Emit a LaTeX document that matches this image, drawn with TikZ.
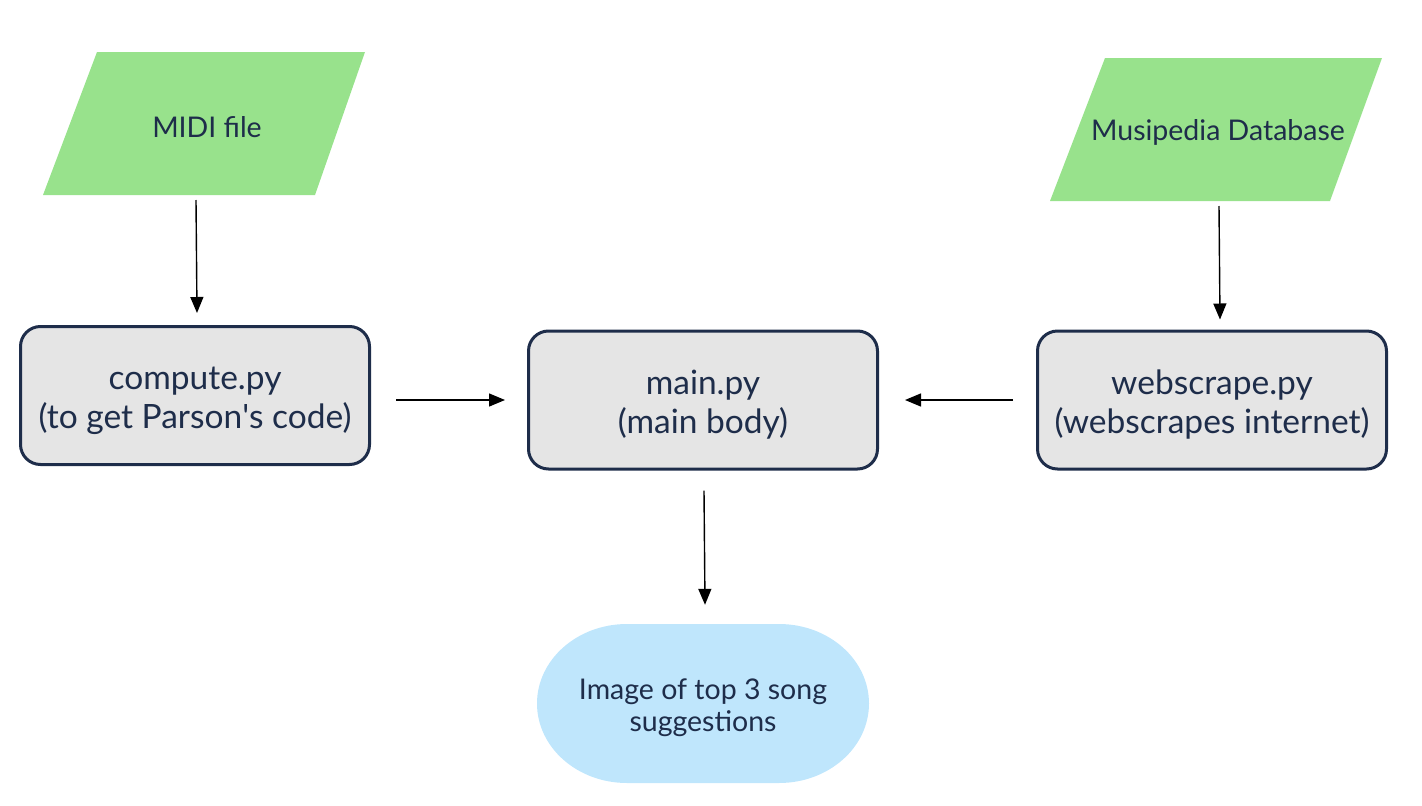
\documentclass[tikz,border=0pt]{standalone}
\usepackage{fontspec}
\setmainfont{Lato}
\usetikzlibrary{arrows.meta}
\definecolor{navy}{HTML}{1E2D4A}
\definecolor{ingreen}{HTML}{98E28C}
\definecolor{boxgray}{HTML}{E5E5E5}
\definecolor{termblue}{HTML}{BFE6FC}
\begin{document}
\begin{tikzpicture}[x=1pt,y=-1pt,
  proc/.style={draw=navy, line width=3pt, fill=boxgray, rounded corners=20pt,
    minimum width=349pt, minimum height=138pt, inner sep=0pt},
  proctext/.style={align=center, text=navy,
    font=\fontsize{33.5}{39}\selectfont, inner sep=0pt},
  io/.style={text=navy, font=\fontsize{28.5}{32}\selectfont, inner sep=0pt},
  term/.style={minimum width=332pt, minimum height=159pt, align=center, text=navy,
    font=\fontsize{28.5}{32}\selectfont, inner sep=0pt},
  conn/.style={line width=1.4pt, -{Triangle[length=16pt,width=13pt]}}]
\useasboundingbox (0,0) rectangle (1422,806);
% input parallelograms
\path[fill=ingreen] (97,52) -- (365,52) -- (315,195) -- (43,195) -- cycle;
\node[io] (midi) at (207,127) {MIDI file};
\coordinate (midiout) at (196,200);
\path[fill=ingreen] (1105,58) -- (1382,58) -- (1330,201) -- (1050,201) -- cycle;
\node[io] (musi) at (1218,132) {Musipedia Database};
\coordinate (musiout) at (1219,206);
% process boxes
\node[proc] (compute) at (195,395.5) {};
\node[proctext] (computetxt) at (195,401) {compute.py\\(to get Parson\textquotesingle s code)};
\node[proc] (main) at (703,400) {};
\node[proctext] (maintxt) at (703,405) {main.py\\(main body)};
\node[proc] (web) at (1212,400) {};
\node[proctext] (webtxt) at (1212,405) {webscrape.py\\(webscrapes internet)};
% terminator
\fill[termblue] (627,624) -- (779,624)
  arc[start angle=-90, end angle=90, x radius=90, y radius=79.5]
  -- (627,783)
  arc[start angle=90, end angle=270, x radius=90, y radius=79.5] -- cycle;
\node[term] (out) at (703,703.5) {};
\node[term, minimum height=0pt] (outtxt) at (703,708) {Image of top 3 song\\suggestions};
% connectors
\draw[conn] (midiout) -- ([xshift=2pt,yshift=12pt]compute.north);
\draw[conn] (musiout) -- ([xshift=8pt,yshift=10pt]web.north);
\draw[conn] ([xshift=25pt]compute.east |- main.west) -- ([xshift=-22pt]main.west);
\draw[conn] ([xshift=-23pt]web.west) -- ([xshift=26pt]main.east);
\draw[conn] ([xshift=1pt,yshift=-20pt]main.south) -- ([xshift=2pt,yshift=19pt]out.north);
\end{tikzpicture}
\end{document}
